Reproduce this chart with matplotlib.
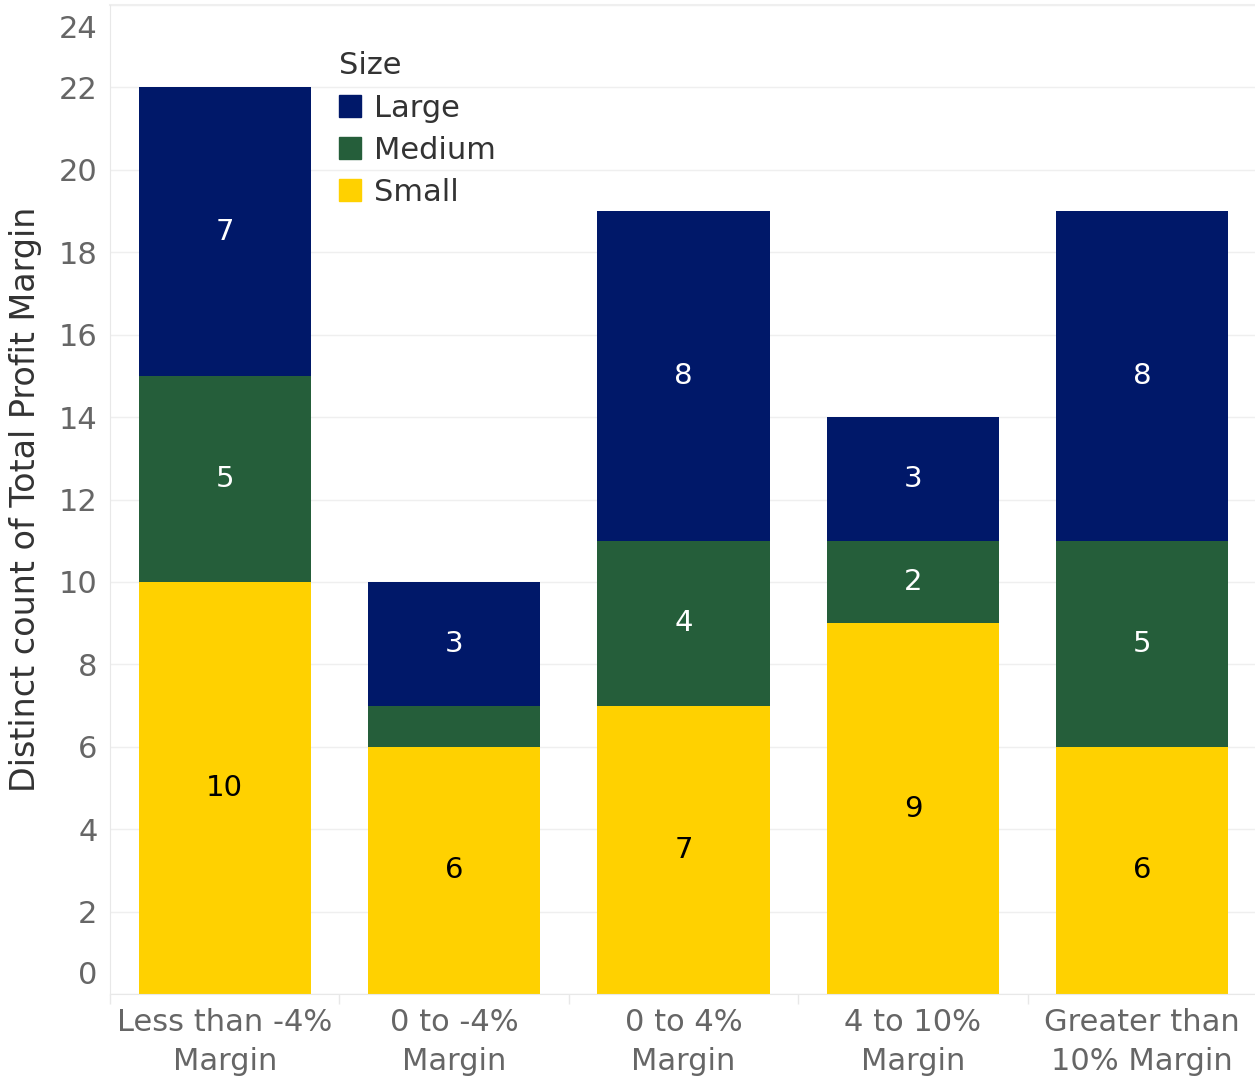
import numpy as np
import matplotlib.pyplot as plt
import matplotlib.transforms as mtransforms
from matplotlib.patches import Patch

categories = ['Less than -4%\nMargin', '0 to -4%\nMargin', '0 to 4%\nMargin',
              '4 to 10%\nMargin', 'Greater than\n10% Margin']
small = [10, 6, 7, 9, 6]
medium = [5, 1, 4, 2, 5]
large = [7, 3, 8, 3, 8]
y_ticks = list(range(0, 25, 2))

c_large = '#001869'
c_medium = '#255e3a'
c_small = '#ffd100'
grey = '#666666'

plt.rcParams['font.family'] = ['DejaVu Sans']
fig = plt.figure(figsize=(12.55, 10.81), dpi=100)
ax = fig.add_axes([110 / 1255, 87 / 1081, 1147 / 1255, 989 / 1081])

x = np.arange(len(categories))
w = 0.75
small = np.array(small)
medium = np.array(medium)
large = np.array(large)
ax.bar(x, small, w, color=c_small, zorder=2)
ax.bar(x, medium, w, bottom=small, color=c_medium, zorder=2)
ax.bar(x, large, w, bottom=small + medium, color=c_large, zorder=2)

# labels inside segments (skip the tiny one)
for i in range(len(x)):
    ax.text(x[i], small[i] / 2, str(small[i]), ha='center', va='center',
            fontsize=21, color='black', zorder=3)
    if medium[i] > 1:
        ax.text(x[i], small[i] + medium[i] / 2, str(medium[i]), ha='center',
                va='center', fontsize=21, color='white', zorder=3)
    ax.text(x[i], small[i] + medium[i] + large[i] / 2, str(large[i]),
            ha='center', va='center', fontsize=21, color='white', zorder=3)

ax.set_xlim(-0.5, 4.5)
ax.set_ylim(0, 24)
ax.set_yticks(y_ticks)
ax.set_yticklabels([str(t) for t in y_ticks])
ax.set_xticks(x)
ax.set_xticklabels(categories, fontsize=22, color=grey, linespacing=1.42)
ax.set_xticks(np.arange(-0.5, 5, 1), minor=True)
ax.tick_params(axis='x', which='major', length=0, pad=10)
ax.tick_params(axis='x', which='minor', length=7, color='#e8e8e8', width=1)
ax.tick_params(axis='y', length=0, labelsize=22, labelcolor=grey, pad=9)
labs = ax.get_yticklabels()
labs[0].set_transform(labs[0].get_transform() +
                      mtransforms.ScaledTranslation(0, 21 / 100, fig.dpi_scale_trans))
labs[-1].set_transform(labs[-1].get_transform() +
                       mtransforms.ScaledTranslation(0, -21 / 100, fig.dpi_scale_trans))

ax.grid(axis='y', color='#efefef', linewidth=1, zorder=0)
for s in ['top', 'right']:
    ax.spines[s].set_visible(False)
ax.spines['left'].set_color('#e8e8e8')
ax.spines['bottom'].set_color('#e8e8e8')
ax.axhline(24, color='#efefef', linewidth=1.5, zorder=1, clip_on=False)

ax.set_ylabel('Distinct count of Total Profit Margin', fontsize=24,
              color='#333333', labelpad=12)

handles = [Patch(color=c_large, label='Large'),
           Patch(color=c_medium, label='Medium'),
           Patch(color=c_small, label='Small')]
leg = ax.legend(handles=handles, title='Size', loc='upper left',
                bbox_to_anchor=(0.2, 0.953), frameon=False, fontsize=22,
                title_fontsize=22, handlelength=0.72, handleheight=0.72,
                handletextpad=0.4, labelspacing=0.43, borderaxespad=0,
                borderpad=0)
leg._legend_box.align = 'left'
for t in leg.get_texts():
    t.set_color('#333333')
leg.get_title().set_color('#333333')

fig.savefig('out.png', dpi=100, facecolor='white')
